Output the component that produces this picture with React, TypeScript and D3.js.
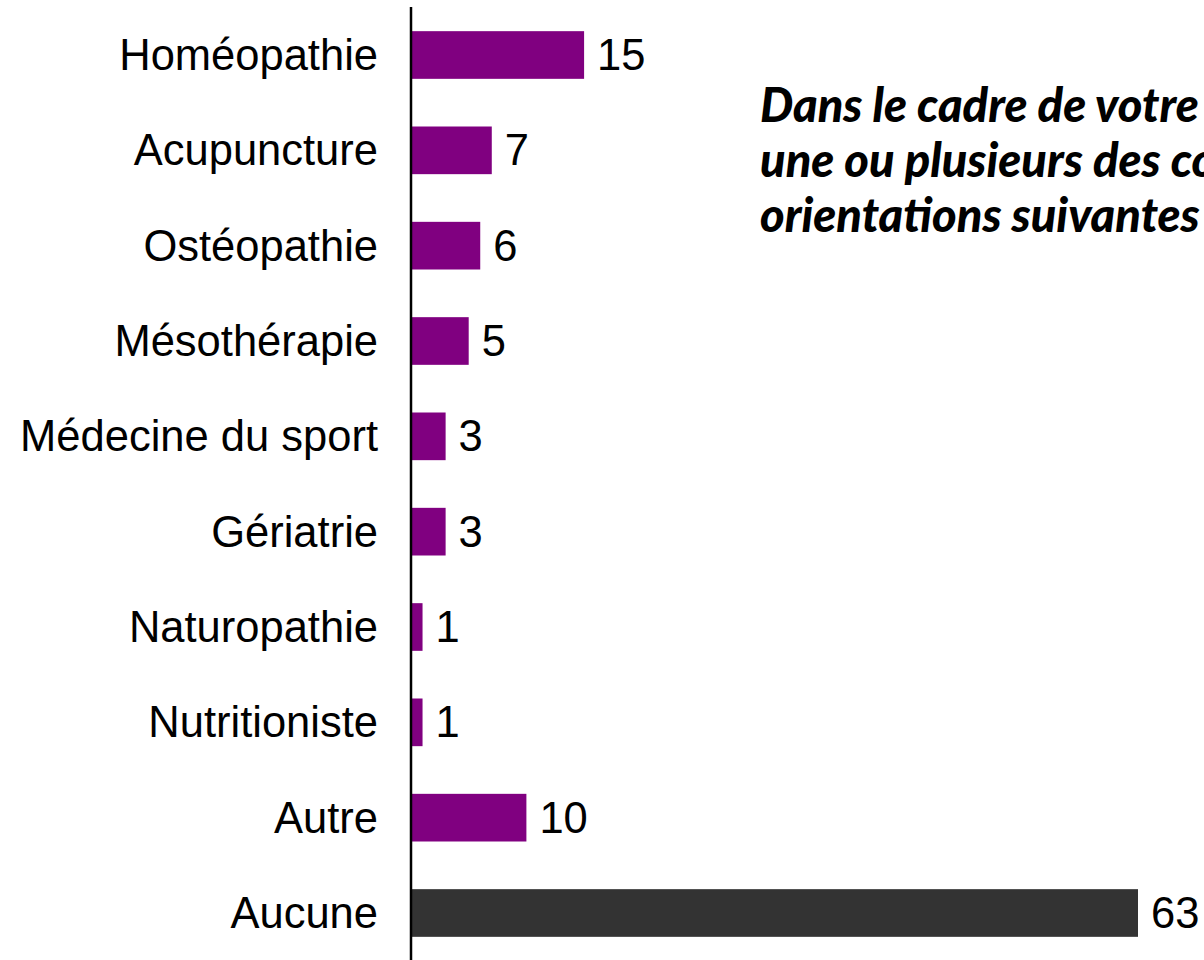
import React from "react";
import * as d3 from "d3";

const categories = [
  "Homéopathie",
  "Acupuncture",
  "Ostéopathie",
  "Mésothérapie",
  "Médecine du sport",
  "Gériatrie",
  "Naturopathie",
  "Nutritioniste",
  "Autre",
  "Aucune",
];
const values = [15, 7, 6, 5, 3, 3, 1, 1, 10, 63];
// question text, as much as the picture shows
const titleLines = [
  "Dans le cadre de votre",
  "une ou plusieurs des co",
  "orientations suivantes",
];

export default function App() {
  const width = 1204;
  const height = 960;
  const axisX = 411;

  const xScale = d3.scaleLinear().domain([0, 63]).range([axisX, 1138]);
  const yScale = d3.scalePoint<string>().domain(categories).range([55, 913]);
  const barH = yScale.step() * 0.5;

  return (
    <svg
      width={width}
      height={height}
      style={{ position: "absolute", left: 0, top: 0, background: "#fff" }}
    >
      {/* Bars */}
      {categories.map((c, i) => (
        <rect
          key={c}
          x={xScale(0)}
          y={(yScale(c) as number) - barH / 2}
          width={xScale(values[i]) - xScale(0)}
          height={barH}
          fill={c === "Aucune" ? "#333333" : "#800080"}
        />
      ))}

      {/* Value labels */}
      {categories.map((c, i) => (
        <text
          key={c + "-val"}
          x={xScale(values[i]) + 13}
          y={yScale(c) as number}
          dominantBaseline="central"
          fontFamily="'Liberation Sans', Arial, sans-serif"
          fontSize={43.5}
          fill="#000"
        >
          {values[i]}
        </text>
      ))}

      {/* Category labels */}
      {categories.map((c) => (
        <text
          key={c + "-cat"}
          x={378}
          y={yScale(c) as number}
          textAnchor="end"
          dominantBaseline="central"
          fontFamily="'Liberation Sans', Arial, sans-serif"
          fontSize={43.5}
          fill="#000"
        >
          {c}
        </text>
      ))}

      {/* Axis line */}
      <line x1={axisX} x2={axisX} y1={7} y2={height} stroke="#000" strokeWidth={2.5} />

      {/* Question text */}
      {titleLines.map((t, i) => (
        <text
          key={t}
          x={760}
          y={122 + i * 55}
          fontFamily="Lato, sans-serif"
          fontStyle="italic"
          fontWeight={900}
          fontSize={47}
          fill="#000"
        >
          {t}
        </text>
      ))}
    </svg>
  );
}
